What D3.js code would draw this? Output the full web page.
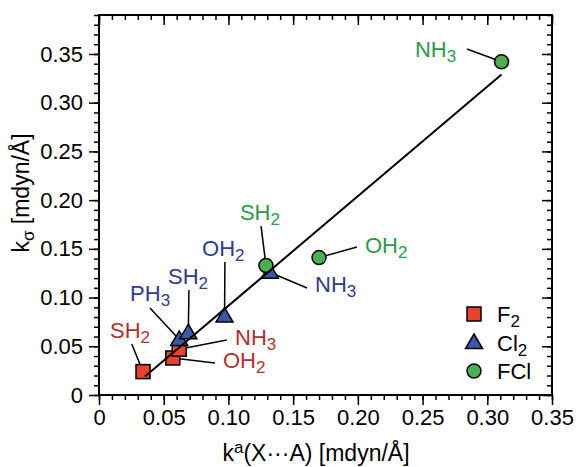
<!DOCTYPE html>
<html>
<head>
<meta charset="utf-8">
<script src="https://cdn.jsdelivr.net/npm/d3@7"></script>
<style>
  body { margin: 0; background: #fff; }
  svg { font-family: "Liberation Sans", Arial, Helvetica, sans-serif; }
</style>
</head>
<body>
<div id="chart"></div>
<script>
// series: molecule names, x = k^a(X...A), y = k_sigma
const f2Names = ["SH2", "OH2", "NH3"];
const f2X = [0.034, 0.057, 0.062];
const f2Y = [0.024, 0.038, 0.047];

const cl2Names = ["PH3", "SH2", "OH2", "NH3"];
const cl2X = [0.062, 0.069, 0.097, 0.132];
const cl2Y = [0.057, 0.064, 0.081, 0.126];

const fclNames = ["SH2", "OH2", "NH3"];
const fclX = [0.129, 0.170, 0.311];
const fclY = [0.133, 0.141, 0.342];

// fitted line end points
const fitX = [0.0355, 0.311];
const fitY = [0.019, 0.329];

// label anchor (data units) and leader start (data units), per series
const f2LabelX = [0.0085, 0.0958, 0.1051];
const f2LabelY = [0.0585, 0.0277, 0.0513];
const f2LeadX = [0.0253, 0.0896, 0.0987];
const f2LeadY = [0.0523, 0.0328, 0.0564];

const cl2LabelX = [0.0240, 0.0533, 0.0796, 0.1669];
const cl2LabelY = [0.0968, 0.1139, 0.1427, 0.1057];
const cl2LeadX = [0.0394, 0.0695, 0.0973, 0.1607];
const cl2LeadY = [0.0893, 0.1078, 0.1365, 0.1098];

const fclLabelX = [0.1089, 0.2055, 0.2441];
const fclLabelY = [0.1796, 0.1457, 0.3472];
const fclLeadX = [0.1252, 0.1993, 0.2843];
const fclLeadY = [0.1734, 0.1519, 0.3551];

const xTicks = [0, 0.05, 0.10, 0.15, 0.20, 0.25, 0.30, 0.35];
const yTicks = [0, 0.05, 0.10, 0.15, 0.20, 0.25, 0.30, 0.35];

const width = 576, height = 467;
const margin = {left: 99, right: 24, top: 15, bottom: 72};

const svg = d3.select("#chart").append("svg")
    .attr("width", width)
    .attr("height", height);

const x = d3.scaleLinear().domain([0, 0.35]).range([margin.left, width - margin.right]);
const y = d3.scaleLinear().domain([0, 0.39]).range([height - margin.bottom, margin.top]);

const fmt = d => d === 0 ? "0" : d.toFixed(2);
const xMinor = d3.range(0, 0.3501, 0.01);
const yMinor = d3.range(0, 0.3901, 0.01);

function styleAxis(g) {
    g.select(".domain").remove();
    g.selectAll("line").attr("stroke", "#000").attr("stroke-width", 1.5);
    g.selectAll("text").attr("fill", "#000").style("font-size", "22px");
}

// bottom
svg.append("g").attr("transform", `translate(0,${y(0)})`)
    .call(d3.axisBottom(x).tickValues(xMinor).tickSize(5).tickFormat(""))
    .call(styleAxis);
svg.append("g").attr("transform", `translate(0,${y(0)})`)
    .call(d3.axisBottom(x).tickValues(xTicks).tickSize(10).tickPadding(4).tickFormat(fmt))
    .call(styleAxis);
// top (ticks point down)
svg.append("g").attr("transform", `translate(0,${margin.top})`)
    .call(d3.axisBottom(x).tickValues(xMinor).tickSize(5).tickFormat(""))
    .call(styleAxis);
svg.append("g").attr("transform", `translate(0,${margin.top})`)
    .call(d3.axisBottom(x).tickValues(xTicks).tickSize(10).tickFormat(""))
    .call(styleAxis);
// left
svg.append("g").attr("transform", `translate(${x(0)},0)`)
    .call(d3.axisLeft(y).tickValues(yMinor).tickSize(5).tickFormat(""))
    .call(styleAxis);
svg.append("g").attr("transform", `translate(${x(0)},0)`)
    .call(d3.axisLeft(y).tickValues(yTicks).tickSize(10).tickPadding(6).tickFormat(fmt))
    .call(styleAxis);
// right (ticks point left)
svg.append("g").attr("transform", `translate(${x(0.35)},0)`)
    .call(d3.axisLeft(y).tickValues(yMinor).tickSize(5).tickFormat(""))
    .call(styleAxis);
svg.append("g").attr("transform", `translate(${x(0.35)},0)`)
    .call(d3.axisLeft(y).tickValues(yTicks).tickSize(10).tickFormat(""))
    .call(styleAxis);

// frame
svg.append("rect")
    .attr("x", x(0)).attr("y", y(0.39))
    .attr("width", x(0.35) - x(0)).attr("height", y(0) - y(0.39))
    .attr("fill", "none").attr("stroke", "#000").attr("stroke-width", 2);

// axis titles
const xTitle = svg.append("text")
    .attr("x", 316).attr("y", 461)
    .attr("text-anchor", "middle")
    .style("font-size", "23px");
xTitle.append("tspan").text("k");
xTitle.append("tspan").attr("dy", -8).style("font-size", "17px").text("a");
xTitle.append("tspan").attr("dy", 8).text("(X\u00b7\u00b7\u00b7A) [mdyn/\u00c5]");

const yTitle = svg.append("text")
    .attr("transform", "translate(29,193) rotate(-90)")
    .attr("text-anchor", "middle")
    .style("font-size", "23px");
yTitle.append("tspan").text("k");
yTitle.append("tspan").attr("dy", 5).style("font-size", "17px").text("\u03c3");
yTitle.append("tspan").attr("dy", -5).text(" [mdyn/\u00c5]");

function chem(sel, name) {
    const m = name.match(/^(.*?)(\d*)$/);
    sel.append("tspan").text(m[1]);
    if (m[2]) sel.append("tspan").attr("dy", 5).style("font-size", "17px").text(m[2]);
}

const series = [
    {names: f2Names, xs: f2X, ys: f2Y, lx: f2LabelX, ly: f2LabelY, ax: f2LeadX, ay: f2LeadY,
     fill: "#e8432e", text: "#b3302c", shape: "square", legend: ["F", "2"]},
    {names: cl2Names, xs: cl2X, ys: cl2Y, lx: cl2LabelX, ly: cl2LabelY, ax: cl2LeadX, ay: cl2LeadY,
     fill: "#3b58ad", text: "#2f3b8f", shape: "triangle", legend: ["Cl", "2"]},
    {names: fclNames, xs: fclX, ys: fclY, lx: fclLabelX, ly: fclLabelY, ax: fclLeadX, ay: fclLeadY,
     fill: "#4caf50", text: "#2a9a48", shape: "circle", legend: ["FCl", ""]}
];

function marker(g, shape, cx, cy, fill) {
    if (shape === "square") {
        g.append("rect").attr("x", cx - 7).attr("y", cy - 7).attr("width", 14).attr("height", 14)
            .attr("fill", fill).attr("stroke", "#000").attr("stroke-width", 1.5);
    } else if (shape === "triangle") {
        g.append("path")
            .attr("d", `M${cx},${cy - 8.5}L${cx + 8.5},${cy + 6}L${cx - 8.5},${cy + 6}Z`)
            .attr("fill", fill).attr("stroke", "#000").attr("stroke-width", 1.5);
    } else {
        g.append("circle").attr("cx", cx).attr("cy", cy).attr("r", 7)
            .attr("fill", fill).attr("stroke", "#000").attr("stroke-width", 1.5);
    }
}

// leaders and labels
series.forEach(s => {
    s.names.forEach((n, i) => {
        svg.append("line")
            .attr("x1", x(s.ax[i])).attr("y1", y(s.ay[i]))
            .attr("x2", x(s.xs[i])).attr("y2", y(s.ys[i]))
            .attr("stroke", "#000").attr("stroke-width", 1.5);
        const t = svg.append("text")
            .attr("x", x(s.lx[i])).attr("y", y(s.ly[i]))
            .attr("fill", s.text)
            .style("font-size", "22px");
        chem(t, n);
    });
});

// markers
series.forEach(s => {
    const g = svg.append("g");
    s.names.forEach((n, i) => marker(g, s.shape, x(s.xs[i]), y(s.ys[i]), s.fill));
});

// fit line
svg.append("line")
    .attr("x1", x(fitX[0])).attr("y1", y(fitY[0]))
    .attr("x2", x(fitX[1])).attr("y2", y(fitY[1]))
    .attr("stroke", "#000").attr("stroke-width", 2);

// legend
series.forEach((s, i) => {
    const ly = 314 + i * 28.5;
    marker(svg, s.shape, 474, ly, s.fill);
    const t = svg.append("text").attr("x", 497).attr("y", ly + 8)
        .style("font-size", "22px");
    t.append("tspan").text(s.legend[0]);
    if (s.legend[1]) t.append("tspan").attr("dy", 5).style("font-size", "17px").text(s.legend[1]);
});
</script>
</body>
</html>
